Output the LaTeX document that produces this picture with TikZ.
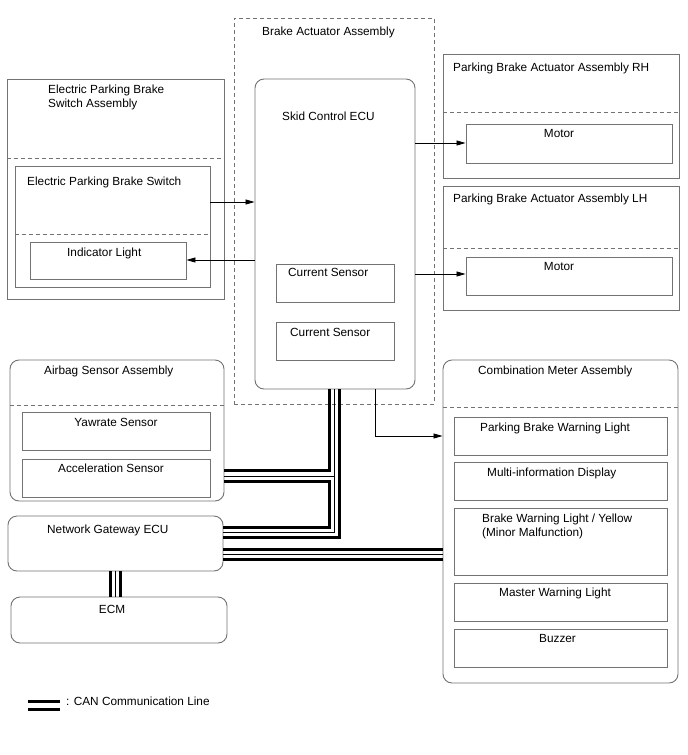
\documentclass[tikz,border=0pt]{standalone}
\usepackage{fontspec}
\setmainfont{Liberation Sans}
\usetikzlibrary{fit,arrows.meta}
\definecolor{boxgray}{RGB}{115,115,115}
\begin{document}
\begin{tikzpicture}[x=1pt,y=-1pt,
  box/.style={draw=boxgray,line width=0.9pt,inner sep=0pt},
  rbox/.style={box,rounded corners=9pt},
  dbox/.style={box,dash pattern=on 4pt off 3pt},
  sep/.style={draw=boxgray,line width=0.9pt,dash pattern=on 4pt off 3pt},
  lbl/.style={anchor=base west,inner sep=0pt,font=\fontsize{11.8}{14}\selectfont},
  clbl/.style={anchor=base,inner sep=0pt,font=\fontsize{11.8}{14}\selectfont},
  arr/.style={draw=black,line width=0.8pt,-{Triangle[length=9pt,width=5pt]}},
  canw/.style={draw=black,line width=3pt},
  cann/.style={draw=black,line width=1pt}]
\useasboundingbox (0,0) rectangle (688,755);
\fill[white] (0,0) rectangle (688,755);

% Brake actuator assembly
\node[dbox,fit={(234,18)(434,404)}] (baa) {};
\node[lbl] (tbaa) at (262,35) {Brake Actuator Assembly};
\node[rbox,fit={(255,79)(415,389)}] (ecu) {};
\node[lbl] (tecu) at (282,120) {Skid Control ECU};
\node[box,fit={(276,264)(394,302)}] (cs1) {};
\node[lbl] (tcs1) at (288,276) {Current Sensor};
\node[box,fit={(276,322)(394,360)}] (cs2) {};
\node[lbl] (tcs2) at (290,336) {Current Sensor};

% Electric parking brake switch assembly
\node[box,fit={(7,79)(224,299)}] (epsa) {};
\draw[sep] (epsa.west |- 0,158) -- (epsa.east |- 0,158);
\node[lbl] (tepsa1) at (48,93) {Electric Parking Brake};
\node[lbl] (tepsa2) at (48,107) {Switch Assembly};
\node[box,fit={(15,166)(210,287)}] (eps) {};
\draw[sep] (eps.west |- 0,234) -- (eps.east |- 0,234);
\node[lbl] (teps) at (27,185) {Electric Parking Brake Switch};
\node[box,fit={(30,242)(186,279)}] (ind) {};
\node[lbl] (tind) at (67,256) {Indicator Light};

% Parking brake actuators
\node[box,fit={(443,54)(679,178)}] (rh) {};
\draw[sep] (rh.west |- 0,112) -- (rh.east |- 0,112);
\node[lbl] (trh) at (453,71) {Parking Brake Actuator Assembly RH};
\node[box,fit={(466,124)(672,163)}] (mrh) {};
\node[clbl] (tmrh) at (559,137) {Motor};
\node[box,fit={(443,186)(679,310)}] (lh) {};
\draw[sep] (lh.west |- 0,248) -- (lh.east |- 0,248);
\node[lbl] (tlh) at (453,202) {Parking Brake Actuator Assembly LH};
\node[box,fit={(466,257)(672,295)}] (mlh) {};
\node[clbl] (tmlh) at (559,270) {Motor};

% Airbag sensor assembly
\node[rbox,fit={(10,360)(224,501)}] (air) {};
\draw[sep] (air.west |- 0,405) -- (air.east |- 0,405);
\node[lbl] (tair) at (44,374) {Airbag Sensor Assembly};
\node[box,fit={(22,412)(210,450)}] (yaw) {};
\node[clbl] (tyaw) at (116,426) {Yawrate Sensor};
\node[box,fit={(22,459)(210,497)}] (acc) {};
\node[lbl] (tacc) at (58,472) {Acceleration Sensor};

% Gateway and ECM
\node[rbox,fit={(8,516)(223,571)}] (gw) {};
\node[lbl] (tgw) at (47,533) {Network Gateway ECU};
\node[rbox,fit={(11,597)(227,643)}] (ecm) {};
\node[clbl] (tecm) at (112,613) {ECM};

% Combination meter
\node[rbox,fit={(443,360)(678,683)}] (cm) {};
\draw[sep] (cm.west |- 0,407) -- (cm.east |- 0,407);
\node[lbl] (tcm) at (478,374) {Combination Meter Assembly};
\node[box,fit={(454,417)(667,455)}] (pbwl) {};
\node[lbl] (tpbwl) at (480,431) {Parking Brake Warning Light};
\node[box,fit={(454,462)(667,500)}] (mid) {};
\node[lbl] (tmid) at (487,476) {Multi-information Display};
\node[box,fit={(454,508)(667,575)}] (bwl) {};
\node[lbl] (tbwl1) at (482,522) {Brake Warning Light / Yellow};
\node[lbl] (tbwl2) at (482,536) {(Minor Malfunction)};
\node[box,fit={(454,583)(667,621)}] (mwl) {};
\node[lbl] (tmwl) at (499,596) {Master Warning Light};
\node[box,fit={(454,629)(667,667)}] (buz) {};
\node[lbl] (tbuz) at (539,642) {Buzzer};

% Arrows
\draw[arr] (eps.east |- 0,202) -- (ecu.west |- 0,202);
\draw[arr] (ecu.west |- 0,260) -- (ind.east |- 0,260);
\draw[arr] (ecu.east |- 0,143) -- (mrh.west |- 0,143);
\draw[arr] (ecu.east |- 0,274) -- (mlh.west |- 0,274);
\draw[arr] (ecu.south -| 375,0) -- (375,436) -- (cm.west |- 0,436);

% CAN lines
\draw[canw] (ecu.south -| 329,0) -- (329,470) -- (air.east |- 0,470);
\draw[cann] (ecu.south -| 334,0) -- (334,532) -- (gw.east |- 0,532);
\draw[cann] (334,476) -- (air.east |- 0,476);
\draw[canw] (air.east |- 0,481) -- (329,481) -- (329,527) -- (gw.east |- 0,527);
\draw[canw] (ecu.south -| 339,0) -- (339,537) -- (gw.east |- 0,537);

\draw[canw] (gw.east |- 0,549) -- (cm.west |- 0,549);
\draw[cann] (gw.east |- 0,554) -- (cm.west |- 0,554);
\draw[canw] (gw.east |- 0,559) -- (cm.west |- 0,559);

\draw[canw] (gw.south -| 110.5,0) -- (ecm.north -| 110.5,0);
\draw[cann] (gw.south -| 115,0) -- (ecm.north -| 115,0);
\draw[canw] (gw.south -| 120.5,0) -- (ecm.north -| 120.5,0);

% Legend
\coordinate (lg1) at (28,701);
\coordinate (lg2) at (60,701);
\coordinate (lg3) at (28,709.5);
\coordinate (lg4) at (60,709.5);
\draw[canw] (lg1) -- (lg2);
\draw[canw] (lg3) -- (lg4);
\node[lbl] (tlg) at (66,705) {: CAN Communication Line};
\end{tikzpicture}
\end{document}
